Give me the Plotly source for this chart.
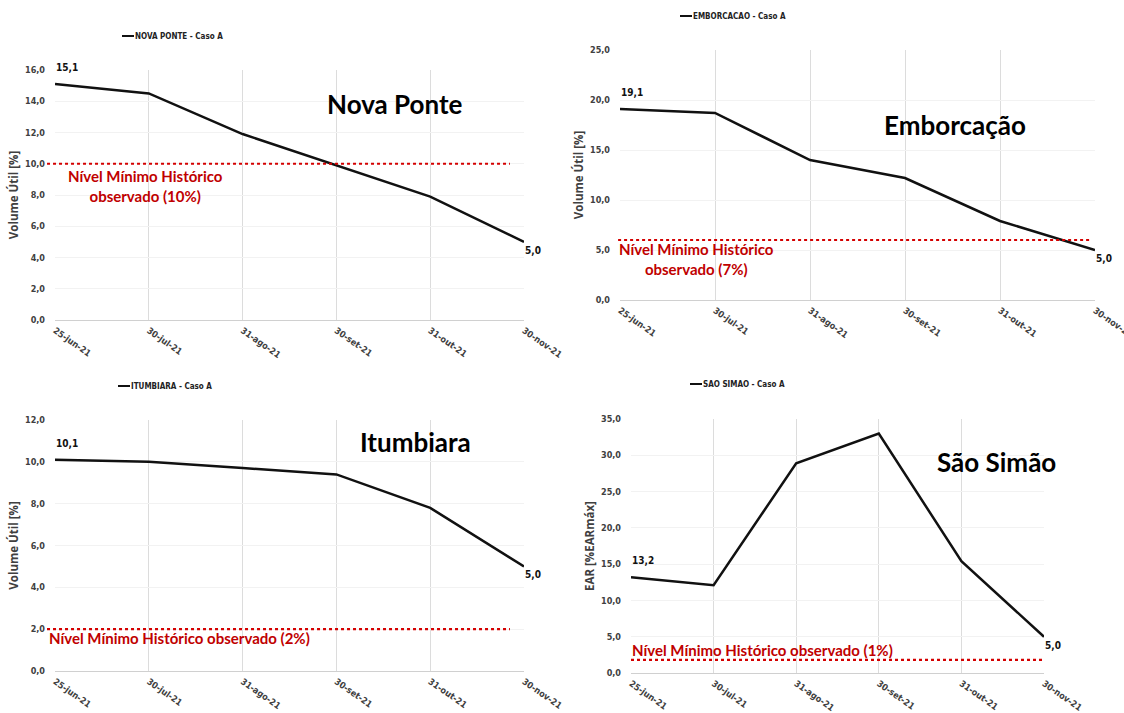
import plotly.graph_objects as go

dates = ["25-jun-21", "30-jul-21", "31-ago-21", "30-set-21", "31-out-21", "30-nov-21"]

nova_ponte = [15.1, 14.5, 11.9, 9.9, 7.9, 5.0]
emborcacao = [19.1, 18.7, 14.0, 12.2, 7.9, 5.0]
itumbiara = [10.1, 10.0, 9.7, 9.4, 7.8, 5.0]
sao_simao = [13.2, 12.1, 28.9, 33.0, 15.4, 5.0]

series_names = ["NOVA PONTE - Caso A", "EMBORCACAO - Caso A", "ITUMBIARA - Caso A", "SAO SIMAO - Caso A"]
panel_titles = ["Nova Ponte", "Emborcação", "Itumbiara", "São Simão"]
min_levels = [10.0, 6.0, 2.0, 1.8]
min_labels = ["Nível Mínimo Histórico<br>observado (10%)",
              "Nível Mínimo Histórico<br>observado (7%)",
              "Nível Mínimo Histórico observado (2%)",
              "Nível Mínimo Histórico observado (1%)"]
y_titles = ["Volume Útil [%]", "Volume Útil [%]", "Volume Útil [%]", "EAR [%EARmáx]"]
y_max = [16, 25, 12, 35]
y_dtick = [2, 5, 2, 5]

W, H = 1124, 713

def fx(px):
    return px / W

def fy(py):
    return 1 - py / H

# layout geometry (pixels): left, right, top, bottom of plot area
boxes = [
    (55, 524, 70, 320),
    (620, 1095, 50, 300),
    (55, 524, 420, 671),
    (631, 1044, 419, 673),
]
legend_pos = [(122, 36), (680, 16), (118, 386), (690, 384)]
title_pos = [(395, 104), (955, 125), (415, 442), (997, 462)]
red_pos = [(145, 186, "center"), (696, 259, "center"), (47, 638, "left"), (630, 650, "left")]
red_line_ext = [(-0.017, 0.970), (-0.004, 0.99), (-0.017, 0.970), (0.0, 1.0)]

all_values = [nova_ponte, emborcacao, itumbiara, sao_simao]

NARROW = "Liberation Sans Narrow, DejaVu Sans Condensed, Arial"
fig = go.Figure()
tick_font = dict(family=NARROW, size=9, color="#404040", weight="bold")

for i, vals in enumerate(all_values):
    xa = "x" if i == 0 else f"x{i+1}"
    ya = "y" if i == 0 else f"y{i+1}"
    fig.add_trace(go.Scatter(
        x=dates, y=vals, mode="lines", name=series_names[i],
        line=dict(color="#111111", width=2.5),
        cliponaxis=False, showlegend=False, xaxis=xa, yaxis=ya,
    ))
    # first / last value labels
    for j, anc, ysh in ((0, "bottom", 9), (len(vals) - 1, "top", -1)):
        fig.add_annotation(xref=xa, yref=ya, x=dates[j], y=vals[j],
                           text=f"{vals[j]:.1f}".replace(".", ","), showarrow=False,
                           xanchor="left", yanchor=anc, yshift=ysh, xshift=-1,
                           font=dict(family=NARROW, size=10, color="#111111", weight="bold"))
    l, r, t, b = boxes[i]
    xkey = "xaxis" if i == 0 else f"xaxis{i+1}"
    ykey = "yaxis" if i == 0 else f"yaxis{i+1}"
    fig.update_layout(**{
        xkey: dict(domain=[fx(l), fx(r)], anchor=ya, type="category", range=[0, len(dates) - 1],
                   tickangle=35, tickfont=tick_font, showgrid=True, gridcolor="#dcdcdc", gridwidth=1,
                   showline=True, linecolor="#d0d0d0", linewidth=1, automargin=False,
                   ticks="", ticklabelstandoff=1, zeroline=False),
        ykey: dict(domain=[fy(b), fy(t)], anchor=xa, range=[0, y_max[i]], dtick=y_dtick[i],
                   tickformat=".1f", tickfont=tick_font, showgrid=True, gridcolor="#f2f2f2",
                   zeroline=False, showline=False, ticklabelstandoff=9, automargin=False,
                   title=dict(text=y_titles[i], standoff=3,
                              font=dict(family="Open Sans, Arial", size=11.5, color="#404040", weight="bold"))),
    })
    # minimum historical level line
    x0, x1 = red_line_ext[i]
    fig.add_shape(type="line", xref=f"{xa} domain", yref=ya, x0=x0, x1=x1,
                  y0=min_levels[i], y1=min_levels[i],
                  line=dict(color="#D40000", width=2.2, dash="dot"))
    # red label
    rx, ry, al = red_pos[i]
    fig.add_annotation(xref="paper", yref="paper", x=fx(rx), y=fy(ry), text=min_labels[i],
                       showarrow=False, xanchor=al, yanchor="middle", align="center",
                       font=dict(family="Lato, Open Sans, Arial", size=15, color="#C00000", weight="bold"))
    # panel title
    tx, ty = title_pos[i]
    fig.add_annotation(xref="paper", yref="paper", x=fx(tx), y=fy(ty), text="<b>" + panel_titles[i] + "</b>",
                       showarrow=False, xanchor="center", yanchor="middle",
                       font=dict(family="Lato, Open Sans, Arial", size=26, color="#000000"))
    # legend entry
    lx, ly = legend_pos[i]
    fig.add_shape(type="line", xref="paper", yref="paper", x0=fx(lx), x1=fx(lx + 12), y0=fy(ly), y1=fy(ly),
                  line=dict(color="#111111", width=2))
    fig.add_annotation(xref="paper", yref="paper", x=fx(lx + 11), y=fy(ly), text=series_names[i],
                       showarrow=False, xanchor="left", yanchor="middle",
                       font=dict(family=NARROW, size=8, color="#222222", weight="bold"))

fig.update_layout(
    width=W, height=H, margin=dict(l=0, r=0, t=0, b=0),
    paper_bgcolor="white", plot_bgcolor="white", separators=",.",
    showlegend=False,
)

fig.write_html("out.html", config={"displayModeBar": False},
               post_script="document.body.style.margin='0';document.body.style.overflow='hidden';")
